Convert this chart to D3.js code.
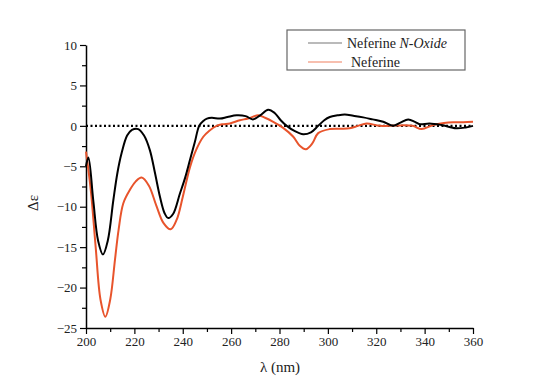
<!DOCTYPE html>
<html lang="en">
<head>
    <meta charset="utf-8">
    <title>CD spectra</title>
    <script src="https://d3js.org/d3.v7.min.js"></script>
    <style>
        body { margin: 0; background: #fff; }
        text { font-family: "Liberation Serif", "Times New Roman", serif; }
    </style>
</head>
<body>
<div id="chart"></div>
<script>
    // wavelength (nm) / delta epsilon
    const oxideLambda = [200, 201, 203, 205, 207, 209, 211.3, 213, 214.7, 217, 219, 221.6, 224, 226.4, 228.5, 230.6, 232.5, 234, 236, 238.8, 241, 243, 245, 246.8, 248.5, 250, 252, 255.4, 258.5, 262.3, 266, 269, 272, 275.3, 278, 280.5, 283, 286, 289.8, 293, 296, 298.5, 300.8, 304, 307, 310.5, 314.6, 318.5, 322.9, 327, 330, 333.2, 336, 338, 342, 347, 353, 357, 360];
    const oxideValue  = [-5, -3.9, -9.2, -14.2, -15.9, -14.2, -9.2, -5.8, -3.4, -1.2, -0.5, -0.4, -1.2, -3.0, -5.8, -8.8, -10.8, -11.4, -10.9, -8.4, -6.4, -4.2, -2, 0, 0.6, 0.9, 1.0, 0.9, 1.1, 1.3, 1.2, 0.8, 1.3, 2.0, 1.6, 0.7, 0, -0.6, -1.05, -0.8, 0, 0.7, 1.1, 1.3, 1.4, 1.25, 1.05, 0.8, 0.5, 0, 0.4, 0.8, 0.5, 0.2, 0.3, 0.1, -0.3, -0.2, 0];

    const nefLambda = [200, 202, 204, 206, 208, 210, 212, 213.5, 215.4, 218.2, 220.5, 223, 226, 229, 232, 235, 237.5, 240, 243, 245.5, 248.5, 251, 254, 256.5, 259.5, 263.6, 267, 271.2, 274, 277.4, 281.5, 285.7, 288.5, 290.9, 293.5, 296, 300.8, 305, 309, 312.5, 316, 321.5, 328, 335, 338.7, 343.5, 348, 351.8, 356, 360];
    const nefValue  = [-3.2, -8, -15, -21.5, -23.6, -21.5, -16.5, -12.8, -9.6, -7.9, -6.9, -6.4, -7.4, -9.8, -12, -12.8, -11.6, -8.8, -5.1, -3.0, -1.35, -0.6, 0, 0.2, 0.3, 0.7, 0.9, 1.3, 1.0, 0.5, -0.25, -1.35, -2.5, -2.9, -2.2, -0.9, -0.4, -0.35, -0.3, 0, 0.3, 0, 0.05, 0, -0.4, 0.1, 0.35, 0.45, 0.45, 0.5];

    const xTicks = [200, 220, 240, 260, 280, 300, 320, 340, 360];
    const yTicks = [-25, -20, -15, -10, -5, 0, 5, 10];
    const seriesNames = ["Neferine", "Neferine N-Oxide"];

    const serif = "Liberation Serif";

    const W = 534, H = 383;
    const margin = {top: 45, right: 61, bottom: 55, left: 86};
    const width = W - margin.left - margin.right,
        height = H - margin.top - margin.bottom;

    const svg = d3.select("#chart")
        .append("svg")
        .attr("width", W)
        .attr("height", H);

    const g = svg.append("g")
        .attr("transform", `translate(${margin.left},${margin.top})`);

    const x = d3.scaleLinear().domain([200, 360]).range([0, width]);
    const y = d3.scaleLinear().domain([-25, 10]).range([height, 0]);

    // minor ticks
    g.append("g")
        .attr("transform", `translate(0,${height})`)
        .call(d3.axisBottom(x).tickValues(d3.range(210, 360, 20)).tickSize(4).tickFormat(""))
        .call(a => a.select(".domain").remove())
        .selectAll("line").attr("stroke-width", 1.2);
    g.append("g")
        .call(d3.axisLeft(y).tickValues(d3.range(-22.5, 10, 5)).tickSize(4).tickFormat(""))
        .call(a => a.select(".domain").remove())
        .selectAll("line").attr("stroke-width", 1.2);

    // major axes
    const xAxis = g.append("g")
        .attr("transform", `translate(0,${height})`)
        .call(d3.axisBottom(x).tickValues(xTicks).tickSize(6).tickSizeOuter(0).tickPadding(3));
    const yAxis = g.append("g")
        .call(d3.axisLeft(y).tickValues(yTicks).tickSize(6).tickSizeOuter(0).tickPadding(3));

    [xAxis, yAxis].forEach(a => {
        a.attr("font-family", serif).attr("font-size", 13);
        a.select(".domain").attr("stroke-width", 1.5);
        a.selectAll(".tick line").attr("stroke-width", 1.2);
        a.selectAll(".tick text").attr("fill", "#222").style("font-family", serif);
    });

    // zero line
    g.append("line")
        .attr("x1", x(200)).attr("x2", x(360))
        .attr("y1", y(0)).attr("y2", y(0))
        .attr("stroke", "#000")
        .attr("stroke-width", 2.2)
        .attr("stroke-dasharray", "2,2.5");

    const line = d3.line()
        .x(d => x(d[0]))
        .y(d => y(d[1]))
        .curve(d3.curveCatmullRom.alpha(0.5));

    g.append("path")
        .datum(d3.zip(nefLambda, nefValue))
        .attr("d", line)
        .attr("fill", "none")
        .attr("stroke", "#e8542c")
        .attr("stroke-width", 2);

    g.append("path")
        .datum(d3.zip(oxideLambda, oxideValue))
        .attr("d", line)
        .attr("fill", "none")
        .attr("stroke", "#000")
        .attr("stroke-width", 2);

    // axis titles
    svg.append("text")
        .attr("x", 280).attr("y", 372)
        .attr("text-anchor", "middle")
        .style("font-family", serif)
        .attr("font-size", 15)
        .attr("fill", "#222")
        .text("λ (nm)");

    svg.append("text")
        .attr("transform", "translate(38,203) rotate(-90)")
        .attr("text-anchor", "middle")
        .style("font-family", serif)
        .attr("font-size", 15)
        .attr("fill", "#222")
        .text("Δε");

    // legend
    const legend = svg.append("g").style("font-family", serif);
    legend.append("rect")
        .attr("x", 287).attr("y", 30)
        .attr("width", 178).attr("height", 40)
        .attr("fill", "#fff")
        .attr("stroke", "#666")
        .attr("stroke-width", 1.2);

    legend.append("line")
        .attr("x1", 308).attr("x2", 342).attr("y1", 43).attr("y2", 43)
        .attr("stroke", "#777").attr("stroke-width", 1.2);
    const t1 = legend.append("text")
        .attr("x", 347).attr("y", 48)
        .attr("font-size", 14).attr("fill", "#222");
    t1.append("tspan").text("Neferine ");
    t1.append("tspan").attr("font-style", "italic").text("N-Oxide");

    legend.append("line")
        .attr("x1", 308).attr("x2", 342).attr("y1", 62).attr("y2", 62)
        .attr("stroke", "#f08060").attr("stroke-width", 1.2);
    legend.append("text")
        .attr("x", 351).attr("y", 67)
        .attr("font-size", 14).attr("fill", "#222")
        .text(seriesNames[0]);
</script>
</body>
</html>
